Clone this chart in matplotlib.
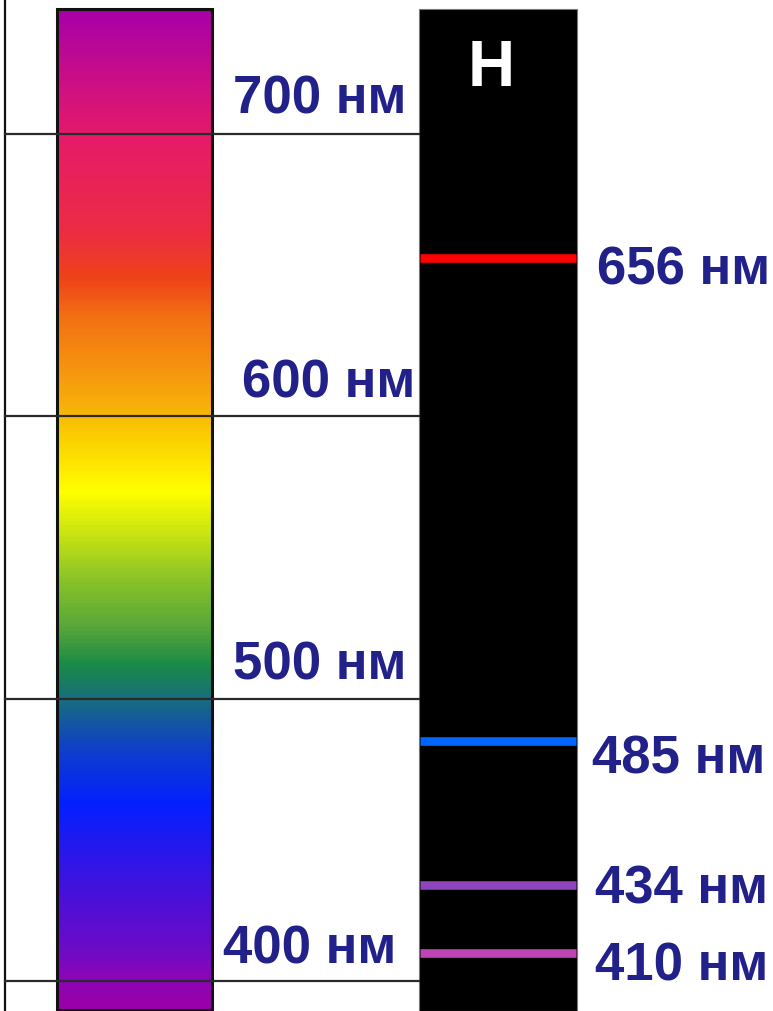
import matplotlib
matplotlib.use("Agg")
import matplotlib.pyplot as plt
import numpy as np
from matplotlib.colors import LinearSegmentedColormap

# visible spectrum colour stops (nm, colour)
spectrum_nm = [744.1, 700, 666.2, 648.5, 635.4, 619.1, 603.5, 595.4, 573.1, 560,
               542.3, 525.7, 511.5, 500, 482.1, 462, 429, 411.3, 400.7, 389.4]
spectrum_colors = ['#a800a8', '#e61a6a', '#ec2c44', '#ee4418', '#f27014', '#f59010',
                   '#f8b00a', '#fac800', '#ffff00', '#d0e810', '#8cc428', '#5aa838',
                   '#1a8a48', '#17707a', '#1040c8', '#0420ff', '#4a10d8', '#6a0cc8',
                   '#8a06b8', '#9c00a8']

# scale marks
scale_nm = [700, 600, 500, 400]
scale_labels = ['700 нм', '600 нм', '500 нм', '400 нм']

# hydrogen emission lines
h_lines_nm = [656, 485, 434, 410]
h_labels = ['656 нм', '485 нм', '434 нм', '410 нм']
h_colors = ['#ff0000', '#0066ff', '#8e44bd', '#bf45b5']

W, H = 773, 1012
PX_PER_NM = 2.825
Y700 = 134.5


def px_to_nm(py):
    return 700 - (py - Y700) / PX_PER_NM


top_nm = px_to_nm(0)
bot_nm = px_to_nm(H)

fig = plt.figure(figsize=(W / 100, H / 100), dpi=100)
ax = fig.add_axes([0, 0, 1, 1])
ax.set_xlim(0, W)
ax.set_ylim(bot_nm, top_nm)
ax.axis('off')

navy = '#212189'
font = dict(family='Liberation Sans', weight='bold', fontsize=38, color=navy)

# rainbow bar
bar_x0, bar_x1 = 57, 212
bar_top = px_to_nm(10)
lo, hi = min(spectrum_nm), max(spectrum_nm)
pos = [(v - lo) / (hi - lo) for v in spectrum_nm[::-1]]
cmap = LinearSegmentedColormap.from_list('spec', list(zip(pos, spectrum_colors[::-1])))
grad = np.linspace(lo, hi, 600).reshape(-1, 1)
ax.imshow(grad, cmap=cmap, aspect='auto', origin='lower',
          extent=[bar_x0, bar_x1, lo, hi], vmin=lo, vmax=hi, zorder=1)
ax.add_patch(plt.Rectangle((bar_x0, bot_nm + 0.4), bar_x1 - bar_x0, bar_top - bot_nm - 0.4,
                           fill=False, ec='#111111', lw=2.2, zorder=3))

# left axis line and scale lines
ax.plot([5, 5], [bot_nm, top_nm], color='#111111', lw=1.6, zorder=4)
for nm in scale_nm:
    ax.plot([5, 419], [nm, nm], color='#2a2a2a', lw=1.6, zorder=4)

label_x = [233, 242, 233, 223]
label_rise = [21, 20, 20, 18]
for nm, txt, lx, rise in zip(scale_nm, scale_labels, label_x, label_rise):
    ax.annotate(txt, xy=(lx, nm), xytext=(0, rise * 0.72), textcoords='offset points',
                va='baseline', ha='left', **font)

# hydrogen spectrum panel
ax.add_patch(plt.Rectangle((419, bot_nm), 158, px_to_nm(10) - bot_nm,
                           fc='black', ec='#777777', lw=0.8, zorder=2))
ax.text(491.5, px_to_nm(86), 'H', ha='center', va='baseline', color='white',
        family='Liberation Sans', weight='bold', fontsize=47, zorder=5)

for nm, c in zip(h_lines_nm, h_colors):
    ax.plot([420, 576], [nm, nm], color=c, lw=6.2, solid_capstyle='butt', zorder=5)

h_label_x = [597, 592, 595, 595]
h_label_base = [285, 773, 904, 981]
for txt, lx, by in zip(h_labels, h_label_x, h_label_base):
    ax.text(lx, px_to_nm(by), txt, va='baseline', ha='left', **font)

fig.savefig('out.png', dpi=100)
